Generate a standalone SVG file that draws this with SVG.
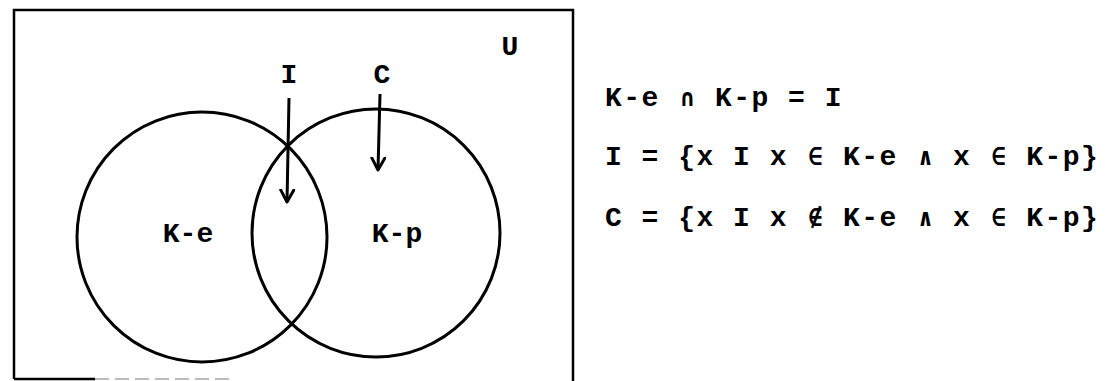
<svg xmlns="http://www.w3.org/2000/svg" width="1117" height="381" viewBox="0 0 1117 381">
  <defs>
    <marker id="arrow" viewBox="0 0 16 16" refX="13" refY="8" markerWidth="16" markerHeight="16" markerUnits="userSpaceOnUse" orient="auto">
      <path d="M1,1.5 L13,8 L1,14.5" fill="none" stroke="#000" stroke-width="3" stroke-linejoin="round" stroke-linecap="round"/>
    </marker>
    <style>
      .txt { font-family: "Liberation Mono", "DejaVu Sans Mono", monospace; font-weight: bold; font-size: 28px; fill: #000; }
      .lbl { text-anchor: middle; }
      .eq { letter-spacing: 1.5px; }
      .sym { font-family: "DejaVu Sans Mono", monospace; font-weight: bold; font-size: 24px; letter-spacing: 1.9px; }
      .set { fill: none; stroke: #000; stroke-width: 3; }
      .edge { fill: none; stroke: #000; stroke-width: 2.5; }
      .conn { stroke: #000; stroke-width: 3; fill: none; }
    </style>
  </defs>
  <rect width="1117" height="381" fill="#fff"/>

  <g id="universe">
    <path class="edge" d="M14,379 L14,10 L573,10 L573,381"/>
    <path class="edge" d="M14,379 L95,379"/>
    <path d="M95,379 L235,379" fill="none" stroke="#bbb" stroke-width="2" stroke-dasharray="14 6"/>
    <text class="txt lbl" x="510" y="55">U</text>
  </g>

  <g id="set-ke">
    <circle class="set" cx="202" cy="237" r="125"/>
    <text class="txt lbl" x="188" y="242">K-e</text>
  </g>

  <g id="set-kp">
    <circle class="set" cx="376" cy="233" r="124"/>
    <text class="txt lbl" x="397" y="242">K-p</text>
  </g>

  <g id="label-I">
    <text class="txt lbl" x="289" y="83">I</text>
  </g>

  <g id="label-C">
    <text class="txt lbl" x="382" y="83">C</text>
  </g>

  <g id="connectors">
    <line class="conn" x1="289" y1="98" x2="287" y2="202" marker-end="url(#arrow)"/>
    <line class="conn" x1="380" y1="94" x2="378" y2="170" marker-end="url(#arrow)"/>
  </g>

  <g id="equations">
    <text class="txt eq" x="605" y="106">K-e <tspan class="sym" dx="2">∩</tspan> K-p = I</text>
    <text class="txt eq" x="605" y="165">I = {x I x <tspan class="sym" dx="2">∈</tspan> K-e <tspan class="sym" dx="2">∧</tspan> x <tspan class="sym" dx="2">∈</tspan> K-p}</text>
    <text class="txt eq" x="605" y="226">C = {x I x <tspan class="sym" dx="2">∉</tspan> K-e <tspan class="sym" dx="2">∧</tspan> x <tspan class="sym" dx="2">∈</tspan> K-p}</text>
  </g>
</svg>
